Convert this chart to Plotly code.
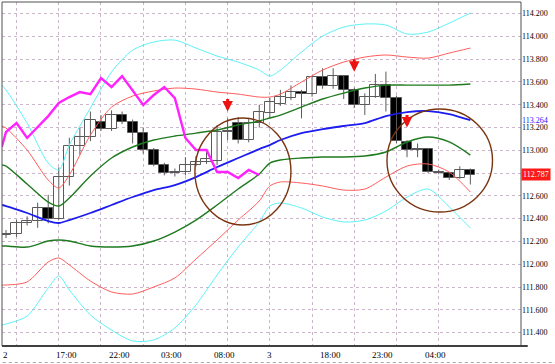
import plotly.graph_objects as go

# ---------------- data ----------------
candle_idx = list(range(45))
opens = [112.26, 112.27, 112.36, 112.38, 112.49, 112.40, 112.77, 113.04, 113.12, 113.25,
         113.19, 113.31, 113.25, 113.15, 113.00, 112.87, 112.80, 112.81, 112.87, 112.90,
         112.91, 113.16, 113.24, 113.09, 113.24, 113.33, 113.41, 113.46, 113.51, 113.49,
         113.64, 113.56, 113.65, 113.53, 113.40, 113.47, 113.57, 113.46, 113.07, 113.00,
         113.01, 112.81, 112.80, 112.76, 112.83]
highs = [112.30, 112.39, 112.42, 112.54, 112.61, 112.85, 113.11, 113.20, 113.34, 113.31,
         113.35, 113.34, 113.27, 113.20, 113.02, 112.89, 112.84, 112.94, 112.95, 113.00,
         113.22, 113.28, 113.29, 113.28, 113.40, 113.46, 113.53, 113.57, 113.53, 113.65,
         113.72, 113.72, 113.66, 113.55, 113.50, 113.67, 113.69, 113.48, 113.09, 113.06,
         113.02, 112.83, 112.81, 112.86, 112.84]
lows = [112.23, 112.24, 112.34, 112.32, 112.36, 112.39, 112.69, 112.96, 113.08, 113.17,
        113.17, 113.23, 113.06, 112.97, 112.86, 112.78, 112.77, 112.78, 112.86, 112.88,
        112.87, 113.09, 113.06, 113.07, 113.20, 113.29, 113.39, 113.44, 113.28, 113.47,
        113.54, 113.54, 113.45, 113.37, 113.31, 113.46, 113.34, 113.06, 112.94, 112.94,
        112.80, 112.79, 112.74, 112.75, 112.70]
closes = [112.27, 112.36, 112.38, 112.49, 112.40, 112.77, 113.04, 113.12, 113.27, 113.19,
          113.31, 113.25, 113.15, 113.00, 112.87, 112.80, 112.81, 112.87, 112.90, 112.92,
          113.16, 113.17, 113.09, 113.24, 113.34, 113.42, 113.47, 113.51, 113.49, 113.64,
          113.56, 113.65, 113.53, 113.40, 113.47, 113.57, 113.46, 113.08, 113.00, 113.01,
          112.81, 112.80, 112.76, 112.83, 112.787]

band_x = [-0.4, 0, 2, 4, 5, 6, 8, 10, 12, 14, 16, 18, 20, 22, 24, 25, 26, 28, 30, 32,
          34, 36, 38, 40, 42, 44]
upper3 = [113.573, 113.529, 113.239, 112.888, 112.827, 113.046, 113.371, 113.687, 113.879,
          113.950, 113.967, 113.897, 113.827, 113.774, 113.704, 113.651, 113.704, 113.862,
          114.002, 114.081, 114.108, 114.099, 114.020, 114.037, 114.116, 114.204]
upper2 = [113.213, 113.195, 113.002, 112.739, 112.669, 112.783, 113.134, 113.379, 113.476,
          113.520, 113.546, 113.537, 113.511, 113.493, 113.467, 113.467, 113.493, 113.599,
          113.704, 113.774, 113.818, 113.836, 113.818, 113.809, 113.853, 113.897]
upper1 = [112.871, 112.862, 112.704, 112.546, 112.511, 112.581, 112.774, 112.932, 113.029,
          113.090, 113.125, 113.151, 113.178, 113.222, 113.257, 113.283, 113.309, 113.379,
          113.450, 113.502, 113.546, 113.572, 113.572, 113.572, 113.572, 113.581]
middle = [112.520, 112.511, 112.450, 112.379, 112.362, 112.388, 112.450, 112.520, 112.590,
          112.651, 112.695, 112.765, 112.853, 112.932, 113.011, 113.046, 113.090, 113.151,
          113.186, 113.213, 113.239, 113.300, 113.335, 113.344, 113.318, 113.264]
lower1 = [112.160, 112.160, 112.151, 112.204, 112.213, 112.204, 112.160, 112.151, 112.160,
          112.204, 112.283, 112.388, 112.520, 112.660, 112.792, 112.888, 112.915, 112.932,
          112.941, 112.941, 112.950, 112.985, 113.073, 113.116, 113.073, 112.958]
lower2 = [111.818, 111.818, 111.845, 112.020, 112.055, 111.994, 111.853, 111.757, 111.739,
          111.801, 111.880, 112.046, 112.213, 112.388, 112.555, 112.687, 112.722, 112.713,
          112.687, 112.651, 112.660, 112.765, 112.862, 112.880, 112.809, 112.634]
lower3 = [111.467, 111.476, 111.546, 111.792, 111.897, 111.774, 111.555, 111.423, 111.327,
          111.336, 111.441, 111.643, 111.906, 112.151, 112.371, 112.511, 112.538, 112.494,
          112.415, 112.371, 112.388, 112.467, 112.590, 112.660, 112.503, 112.318]

lag_x = [-0.4] + list(range(25))
lag_vals = [113.029, 113.160, 113.239, 113.108, 113.204, 113.300, 113.415, 113.467, 113.511,
            113.493, 113.634, 113.555, 113.651, 113.520, 113.397, 113.485, 113.555, 113.458,
            113.108, 113.002, 113.002, 112.809, 112.809, 112.757, 112.827, 112.783]

time_label_idx = [0, 5, 10, 15, 20, 25, 30, 35, 40]
time_labels = ["2", "17:00", "22:00", "03:00", "08:00", "3", "18:00", "23:00", "04:00"]
grid_idx = [1, 5, 9, 13, 17, 21, 25, 29, 33, 37, 41]
price_ticks = [111.4, 111.6, 111.8, 112.0, 112.2, 112.4, 112.6, 112.8, 113.0, 113.2,
               113.4, 113.6, 113.8, 114.0, 114.2]
price_labels = ["111.400", "111.600", "111.800", "112.000", "112.200", "112.400", "112.600",
                "", "113.000", "113.200", "113.400", "113.600", "113.800", "114.000", "114.200"]

ma_value = 113.264
last_price = 112.787

arrow_idx = [21, 33, 38]
arrow_tip = [113.34, 113.69, 113.20]

circle_x0 = [17.9, 36.1]
circle_x1 = [27.0, 46.1]
circle_y0 = [112.345, 112.459]
circle_y1 = [113.283, 113.362]

# ---------------- figure ----------------
fig = go.Figure()

# wicks
wx, wy = [], []
for i, h, l in zip(candle_idx, highs, lows):
    wx += [i, i, None]
    wy += [l, h, None]
fig.add_trace(go.Scatter(x=wx, y=wy, mode="lines", line=dict(color="#5a5a5a", width=1),
                         showlegend=False, hoverinfo="skip"))

# bodies
body_base = [min(o, c) for o, c in zip(opens, closes)]
body_len = [max(abs(c - o), 0.008) for o, c in zip(opens, closes)]
body_col = ["white" if c >= o else "black" for o, c in zip(opens, closes)]
fig.add_trace(go.Bar(x=candle_idx, base=body_base, y=body_len, width=0.97,
                     marker=dict(color=body_col, line=dict(color="#5a5a5a", width=1)),
                     showlegend=False, hoverinfo="skip"))

def band(y, color, width):
    fig.add_trace(go.Scatter(x=band_x, y=y, mode="lines",
                             line=dict(color=color, width=width, shape="spline", smoothing=0.8),
                             showlegend=False, hoverinfo="skip"))

band(upper3, "#5ef2f7", 1)
band(lower3, "#5ef2f7", 1)
band(upper2, "#ff5c5c", 1)
band(lower2, "#ff5c5c", 1)
band(upper1, "#1f7a1f", 1.4)
band(lower1, "#1f7a1f", 1.4)
band(middle, "#1c1cf0", 1.8)

fig.add_trace(go.Scatter(x=lag_x, y=lag_vals, mode="lines",
                         line=dict(color="#ff22ff", width=2.4),
                         showlegend=False, hoverinfo="skip"))

shapes = []
for x0, x1, y0, y1 in zip(circle_x0, circle_x1, circle_y0, circle_y1):
    shapes.append(dict(type="circle", xref="x", yref="y", x0=x0, x1=x1, y0=y0, y1=y1,
                       line=dict(color="#7a3510", width=1.4), layer="above"))
shapes.append(dict(type="rect", xref="paper", yref="paper", x0=0, x1=1, y0=0, y1=1,
                   line=dict(color="#505050", width=1)))
shapes.append(dict(type="line", xref="paper", yref="paper", x0=0, x1=1.013, y0=0, y1=0,
                   line=dict(color="#404040", width=2)))
shapes.append(dict(type="line", xref="paper", yref="paper", x0=-0.01, x1=1.07,
                   y0=-0.048, y1=-0.048, line=dict(color="#a8a8a8", width=1, dash="dot")))

annotations = []
for xi, yt in zip(arrow_idx, arrow_tip):
    annotations.append(dict(x=xi, y=yt, xref="x", yref="y", text="", showarrow=True,
                            ax=0, ay=-14, arrowhead=2, arrowsize=0.7, arrowwidth=3,
                            arrowcolor="#ee1111"))
for xi, lab in zip(time_label_idx, time_labels):
    annotations.append(dict(x=xi, y=0, xref="x", yref="paper", text=lab, showarrow=False,
                            xanchor="left", yanchor="top", xshift=-4, yshift=-3, borderpad=0,
                            font=dict(family="Liberation Serif", size=9, color="black")))
annotations.append(dict(x=1, y=ma_value, xref="paper", yref="y", text=f"{ma_value:.3f}",
                        showarrow=False, xanchor="left", yanchor="middle", xshift=0,
                        borderpad=0,
                        font=dict(family="Liberation Serif", size=8, color="#2020ff")))
annotations.append(dict(x=1, y=last_price, xref="paper", yref="y", text=f"{last_price:.3f}",
                        showarrow=False, xanchor="left", yanchor="middle", xshift=0,
                        bgcolor="#ff1a1a", borderpad=1,
                        font=dict(family="Liberation Serif", size=8, color="#e8ffff")))

fig.update_layout(
    width=555, height=364,
    margin=dict(l=2, r=34, t=2, b=18, autoexpand=False),
    paper_bgcolor="white", plot_bgcolor="white",
    bargap=0, barmode="overlay",
    shapes=shapes, annotations=annotations,
    xaxis=dict(range=[-0.38, 48.8], tickvals=grid_idx, showticklabels=False, ticks="",
               showgrid=True, gridcolor="#cbb6cb", griddash="dot", gridwidth=1,
               zeroline=False, showline=False, automargin=False, fixedrange=True),
    yaxis=dict(range=[111.283, 114.301], side="right", tickvals=price_ticks,
               ticktext=price_labels, ticks="", ticklabelstandoff=0, automargin=False,
               tickfont=dict(family="Liberation Serif", size=8, color="black"),
               showgrid=True, gridcolor="#cbb6cb", griddash="dot", gridwidth=1,
               zeroline=False, showline=False, fixedrange=True),
)

fig.write_html("out.html", config={"displayModeBar": False},
               post_script="document.body.style.margin='0';document.body.style.overflow='hidden';")
